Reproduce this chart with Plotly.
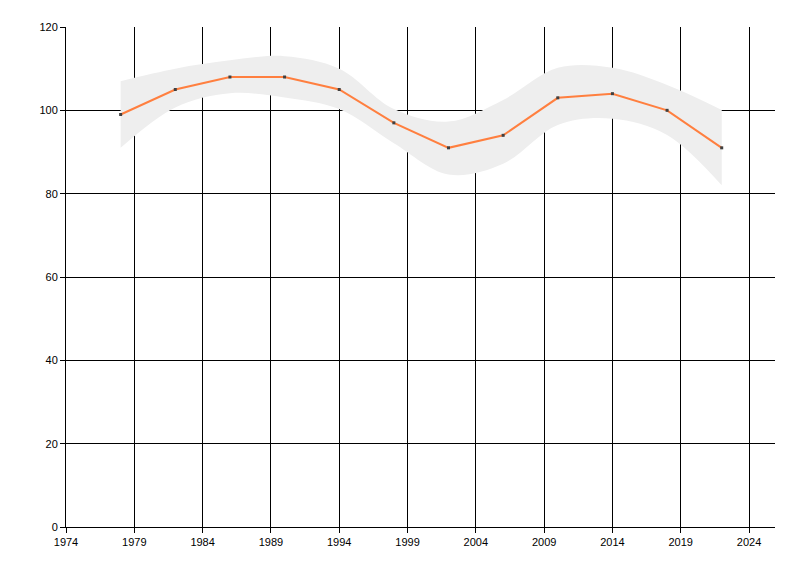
import plotly.graph_objects as go

years = [1978, 1982, 1986, 1990, 1994, 1998, 2002, 2006, 2010, 2014, 2018, 2022]
values = [99, 105, 108, 108, 105, 97, 91, 94, 103, 104, 100, 91]
band_upper = [107, 110, 112, 113, 110, 100.3, 97.3, 102.5, 110.2, 110.2, 106.1, 100.1]
band_lower = [91, 100.7, 104.1, 103.1, 100.3, 92.1, 84.6, 87.2, 96.5, 98, 94.1, 82]

x_ticks = [1974, 1979, 1984, 1989, 1994, 1999, 2004, 2009, 2014, 2019, 2024]
y_ticks = [0, 20, 40, 60, 80, 100, 120]

fig = go.Figure()

# band: lower edge first, then upper edge filled down to it
fig.add_trace(go.Scatter(
    x=years, y=band_lower,
    mode='lines',
    line=dict(color='rgba(0,0,0,0)', shape='spline', smoothing=1.0),
    hoverinfo='skip', showlegend=False,
))
fig.add_trace(go.Scatter(
    x=years, y=band_upper,
    mode='lines',
    fill='tonexty', fillcolor='#eeeeee',
    line=dict(color='rgba(0,0,0,0)', shape='spline', smoothing=1.0),
    hoverinfo='skip', showlegend=False,
))

fig.add_trace(go.Scatter(
    x=years, y=values,
    mode='lines+markers',
    line=dict(color='#ff7f3f', width=2),
    marker=dict(color='#404040', size=3, symbol='square'),
    showlegend=False,
))

axis_font = dict(family='Liberation Sans, Arial, sans-serif', size=11, color='#000000')

# page body adds ~8px offset, margins compensate for it
fig.update_layout(
    width=800, height=576,
    margin=dict(l=58, r=33, t=19, b=57),
    paper_bgcolor='white',
    plot_bgcolor='white',
    xaxis=dict(
        range=[1974, 2025.9],
        tickvals=x_ticks,
        showgrid=True, gridcolor='black', gridwidth=1,
        showline=True, linecolor='black', linewidth=1,
        ticks='outside', ticklen=5, tickcolor='black',
        tickfont=axis_font, zeroline=False, automargin=False,
    ),
    yaxis=dict(
        range=[0, 120],
        tickvals=y_ticks,
        showgrid=True, gridcolor='black', gridwidth=1,
        showline=True, linecolor='black', linewidth=1,
        ticks='outside', ticklen=5, tickcolor='black',
        tickfont=axis_font, zeroline=False, automargin=False,
    ),
)

fig.write_html("out.html")
